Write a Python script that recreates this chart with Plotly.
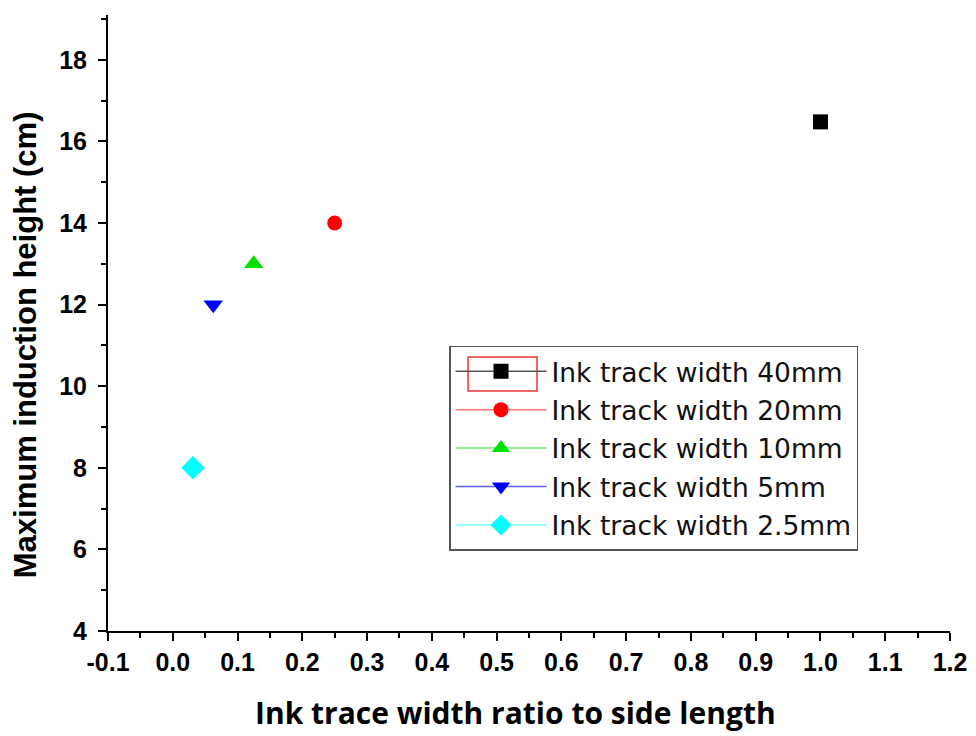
import plotly.graph_objects as go

names = ["Ink track width 40mm", "Ink track width 20mm", "Ink track width 10mm",
         "Ink track width 5mm", "Ink track width 2.5mm"]
x_vals = [1.0, 0.25, 0.125, 0.0625, 0.03125]
y_vals = [16.48, 14.0, 13.0, 12.0, 8.0]
symbols = ["square", "circle", "triangle-up", "triangle-down", "diamond"]
marker_colors = ["#000000", "#ff0000", "#00e000", "#0000ff", "#00ffff"]
line_colors = ["#555555", "#ff7070", "#70ee70", "#6060ee", "#70ffff"]
marker_sizes = [15, 15, 17, 17, 18]

x_tickvals = [-0.1, 0.0, 0.1, 0.2, 0.3, 0.4, 0.5, 0.6, 0.7, 0.8, 0.9, 1.0, 1.1, 1.2]
x_ticktext = ["-0.1", "0.0", "0.1", "0.2", "0.3", "0.4", "0.5", "0.6", "0.7", "0.8", "0.9", "1.0", "1.1", "1.2"]
y_tickvals = [4, 6, 8, 10, 12, 14, 16, 18]
x_title = "Ink trace width ratio to side length"
y_title = "Maximum induction height (cm)"

fig = go.Figure()
for i in range(len(names)):
    fig.add_trace(go.Scatter(
        x=[x_vals[i]], y=[y_vals[i]], name=names[i], mode="lines+markers",
        legendgroup=str(i),
        marker=dict(symbol=symbols[i], color=marker_colors[i], size=marker_sizes[i],
                    line=dict(width=0)),
        line=dict(color=line_colors[i], width=1.5),
    ))

tickfont = dict(family="Liberation Sans, Arial", size=25, color="black", weight="bold")
fig.update_layout(
    width=968, height=728,
    margin=dict(l=100, r=26, t=7, b=105),
    plot_bgcolor="white", paper_bgcolor="white",
    showlegend=True,
    legend=dict(
        x=0.405, y=0.4627, xanchor="left", yanchor="top",
        bordercolor="#555555", borderwidth=1.5, bgcolor="rgba(0,0,0,0)",
        font=dict(family="DejaVu Sans", size=26.5, color="#111111"),
        tracegroupgap=1, itemwidth=91,
    ),
    xaxis=dict(
        range=[-0.1, 1.2], tickvals=x_tickvals, ticktext=x_ticktext,
        showgrid=False, zeroline=False, showline=True, linecolor="black", linewidth=2,
        ticks="outside", ticklen=8, tickwidth=2, tickcolor="black",
        minor=dict(ticks="outside", ticklen=5, tickwidth=2, tickcolor="black", dtick=0.05, tick0=-0.1),
        tickfont=tickfont, automargin=False,
    ),
    yaxis=dict(
        range=[4, 19.1], tickvals=y_tickvals,
        showgrid=False, zeroline=False, showline=True, linecolor="black", linewidth=2,
        ticks="outside", ticklen=8, tickwidth=2, tickcolor="black",
        minor=dict(ticks="outside", ticklen=5, tickwidth=2, tickcolor="black", dtick=1, tick0=4),
        tickfont=tickfont, automargin=False, ticklabelstandoff=6,
    ),
)

fig.add_annotation(text=x_title, xref="paper", yref="paper", x=0.4834, y=-0.133,
                   xanchor="center", yanchor="middle", showarrow=False,
                   font=dict(family="Open Sans", size=30, color="black", weight="bold"))
fig.add_annotation(text=y_title, xref="paper", yref="paper", x=-0.0985, y=0.464,
                   xanchor="center", yanchor="middle", showarrow=False, textangle=-90,
                   font=dict(family="Liberation Sans, Arial", size=31, color="black", weight="bold"))

# selection box around first legend symbol
fig.add_shape(type="rect", xref="paper", yref="paper",
              x0=0.4276, x1=0.5095, y0=0.3896, y1=0.4448,
              line=dict(color="#ee3333", width=1.5), fillcolor="rgba(0,0,0,0)", layer="above")

fig.write_html("out.html")
